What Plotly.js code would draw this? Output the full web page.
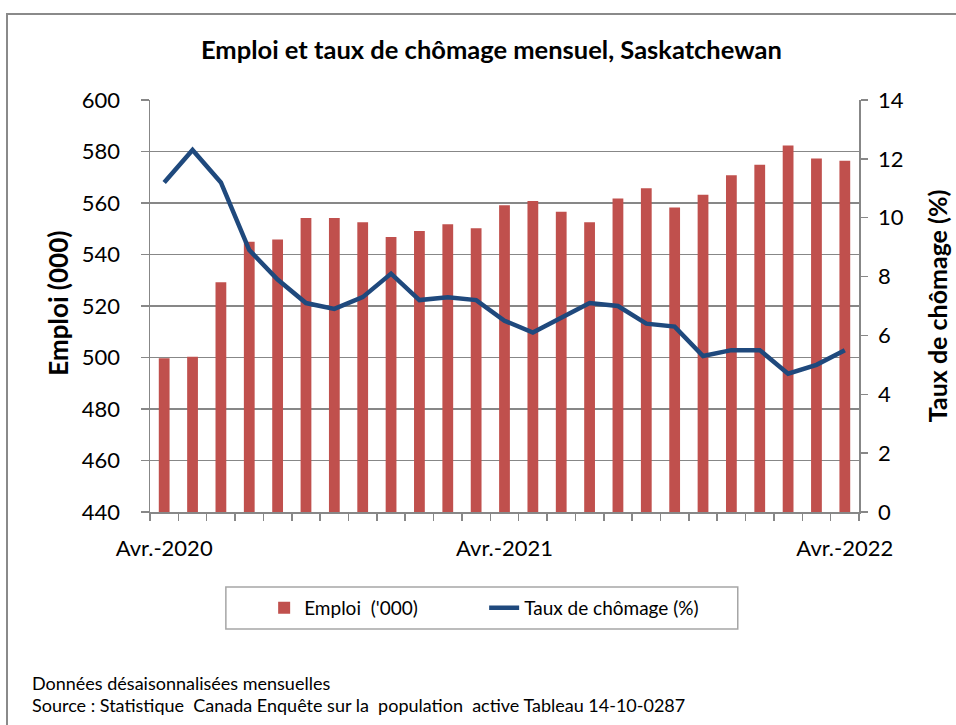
<!DOCTYPE html>
<html>
<head>
<meta charset="utf-8">
<script src="https://cdn.plot.ly/plotly-3.0.1.min.js"></script>
<style>
html,body{margin:0;padding:0;background:#fff;}
#wrap{position:relative;width:956px;height:725px;overflow:hidden;}
#chart{position:absolute;left:0;top:0;width:956px;height:725px;}
#frame{position:absolute;left:6px;top:13px;width:980px;height:760px;border:2px solid #8a8a8a;pointer-events:none;box-sizing:border-box;}
</style>
</head>
<body>
<div id="wrap"><div id="chart"></div><div id="frame"></div></div>
<script>
const months = ["Avr.-2020","Mai-2020","Juin-2020","Juil.-2020","Août-2020","Sept.-2020","Oct.-2020","Nov.-2020","Déc.-2020","Janv.-2021","Févr.-2021","Mars-2021","Avr.-2021","Mai-2021","Juin-2021","Juil.-2021","Août-2021","Sept.-2021","Oct.-2021","Nov.-2021","Déc.-2021","Janv.-2022","Févr.-2022","Mars-2022","Avr.-2022"];
const emploi = [499.7,500.3,529.2,545.0,545.8,554.2,554.2,552.5,546.8,549.1,551.7,550.2,559.1,560.8,556.6,552.5,561.7,565.7,558.3,563.2,570.8,574.9,582.3,577.3,576.4];
const chomage = [11.2,12.3,11.2,8.9,7.9,7.1,6.9,7.3,8.1,7.2,7.3,7.2,6.5,6.1,6.6,7.1,7.0,6.4,6.3,5.3,5.5,5.5,4.7,5.0,5.5];
const xLabelIdx = [0,12,24];
const xLabels = xLabelIdx.map(i => months[i]);
const idx = months.map((m,i) => i);

const FONT = "Lato, 'Open Sans', sans-serif";
const GRID = "#878787";

const traces = [
  {type:"bar", name:"Emploi  ('000)", x:idx, y:emploi, marker:{color:"#C0504D"}, yaxis:"y", hovertext:months},
  {type:"scatter", mode:"lines", name:"Taux de chômage (%)", x:idx, y:chomage, yaxis:"y2", line:{color:"#1F497D", width:4.5}, hovertext:months}
];

const layout = {
  width:956, height:725,
  margin:{l:150, r:97, t:100, b:213},
  paper_bgcolor:"#fff", plot_bgcolor:"#fff",
  font:{family:FONT, size:22, color:"#000"},
  bargap:0.62,
  showlegend:true,
  title:{text:"<b>Emploi et taux de chômage mensuel, Saskatchewan</b>", font:{family:FONT, size:25.5, color:"#000"}, xref:"container", x:0.514, xanchor:"center", yref:"container", y:0.931, yanchor:"middle"},
  xaxis:{
    range:[-0.5,24.5], tickmode:"array", tickvals:xLabelIdx, ticktext:xLabels,
    ticks:"", showgrid:false, zeroline:false, showline:true, linecolor:GRID, linewidth:1.5,
    tickfont:{family:FONT, size:22}, ticklabelstandoff:16,
    minor:{ticks:"outside", tick0:-0.5, dtick:1, ticklen:7, tickcolor:GRID, tickwidth:1.5, showgrid:false}
  },
  yaxis:{
    range:[440,600], tick0:440, dtick:20, showgrid:true, gridcolor:GRID, gridwidth:1.6,
    showline:true, linecolor:GRID, linewidth:1.5, ticks:"outside", ticklen:8, tickcolor:GRID, tickwidth:1.5,
    zeroline:false, tickfont:{family:FONT, size:22}, ticklabelstandoff:16
  },
  yaxis2:{
    overlaying:"y", side:"right", range:[0,14], tick0:0, dtick:2, showgrid:false,
    showline:true, linecolor:GRID, linewidth:1.5, ticks:"outside", ticklen:7, tickcolor:GRID, tickwidth:1.5,
    zeroline:false, tickfont:{family:FONT, size:22}, ticklabelstandoff:6,
    title:{text:"<b>Taux de chômage (%)</b>", font:{family:FONT, size:25}, standoff:27}
  },
  legend:{
    orientation:"h", xref:"paper", yref:"paper", x:0.161, xanchor:"left", y:-0.233, yanchor:"middle",
    borderwidth:0, bgcolor:"rgba(0,0,0,0)",
    font:{family:FONT, size:19, color:"#000"}, entrywidth:175, traceorder:"normal"
  },
  shapes:[
    {type:"rect", xref:"paper", yref:"paper", x0:0.107, x1:0.829, y0:-0.284, y1:-0.182, line:{color:"#a6a6a6", width:1.5}, fillcolor:"rgba(0,0,0,0)", layer:"above"}
  ],
  annotations:[
    {text:"<b>Emploi (000)</b>", xref:"paper", yref:"paper", x:-0.129, y:0.507, xanchor:"center", yanchor:"middle", textangle:-90, showarrow:false, font:{family:FONT, size:26, color:"#000"}},
    {text:"Données désaisonnalisées mensuelles", xref:"paper", yref:"paper", x:-0.169, y:-0.415, xanchor:"left", yanchor:"middle", showarrow:false, font:{family:FONT, size:18, color:"#000"}},
    {text:"Source : Statistique  Canada Enquête sur la  population  active Tableau 14-10-0287", xref:"paper", yref:"paper", x:-0.169, y:-0.468, xanchor:"left", yanchor:"middle", showarrow:false, font:{family:FONT, size:18, color:"#000"}}
  ]
};

Plotly.newPlot("chart", traces, layout, {displayModeBar:false, staticPlot:true});
</script>
</body>
</html>
